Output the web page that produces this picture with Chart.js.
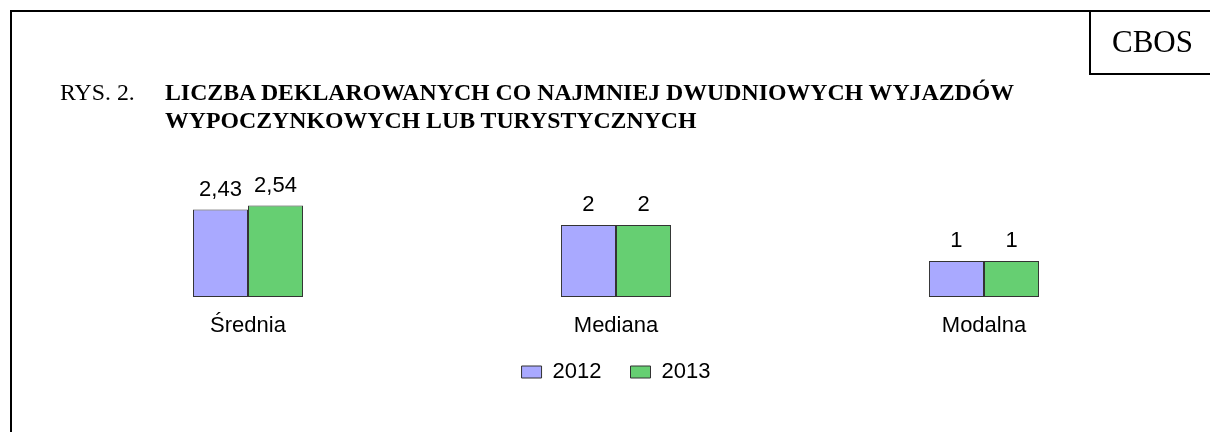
<!DOCTYPE html>
<html>
<head>
<meta charset="utf-8">
<script src="https://cdn.jsdelivr.net/npm/chart.js@4/dist/chart.umd.min.js"></script>
<style>
  html, body { margin: 0; padding: 0; background: #fff; }
  #wrap { position: relative; width: 1210px; height: 432px; overflow: hidden; }
  #frameTop { position: absolute; left: 10px; top: 10px; width: 1200px; height: 2px; background: #000; }
  #frameLeft { position: absolute; left: 10px; top: 10px; width: 2px; height: 422px; background: #000; }
  #cbos { position: absolute; left: 1089px; top: 10px; width: 121px; height: 65px; border-left: 2px solid #000; border-bottom: 2px solid #000; box-sizing: border-box;
          font-family: "Liberation Serif", "Times New Roman", serif; font-size: 31px; color: #000; text-align: center; line-height: 63px; padding-left: 4px; }
  .t { position: absolute; font-family: "Liberation Serif", "Times New Roman", serif; font-size: 23.8px; line-height: 28px; color: #000; white-space: nowrap; }
  #rys { left: 60px; top: 78px; }
  #title { left: 165px; top: 78px; font-weight: bold; }
  canvas { position: absolute; left: 0; top: 0; }
</style>
</head>
<body>
<div id="wrap">
  <canvas id="c" width="1210" height="432"></canvas>
  <div id="frameTop"></div>
  <div id="frameLeft"></div>
  <div id="cbos">CBOS</div>
  <div class="t" id="rys">RYS. 2.</div>
  <div class="t" id="title">LICZBA DEKLAROWANYCH CO NAJMNIEJ DWUDNIOWYCH WYJAZDÓW<br>WYPOCZYNKOWYCH LUB TURYSTYCZNYCH</div>
</div>
<script>
const categories = ["Średnia", "Mediana", "Modalna"];
const seriesNames = ["2012", "2013"];
const values2012 = [2.43, 2, 1];
const values2013 = [2.54, 2, 1];
const colors = ["#A9A9FF", "#66CF72"];

const valueLabels = {
  id: 'valueLabels',
  afterDatasetsDraw(chart) {
    const ctx = chart.ctx;
    ctx.save();
    ctx.font = '22px "Liberation Sans", Arial, sans-serif';
    ctx.fillStyle = '#000';
    ctx.textAlign = 'center';
    ctx.textBaseline = 'alphabetic';
    chart.data.datasets.forEach((ds, di) => {
      const meta = chart.getDatasetMeta(di);
      meta.data.forEach((el, i) => {
        const v = ds.data[i];
        ctx.fillText(String(v).replace('.', ','), el.x, el.y - 14);
      });
    });
    ctx.restore();
  }
};

new Chart(document.getElementById('c'), {
  type: 'bar',
  data: {
    labels: categories,
    datasets: [
      { label: seriesNames[0], data: values2012, backgroundColor: colors[0], borderColor: '#333', borderWidth: 1, borderSkipped: false },
      { label: seriesNames[1], data: values2013, backgroundColor: colors[1], borderColor: '#333', borderWidth: 1, borderSkipped: false }
    ]
  },
  options: {
    responsive: false,
    animation: false,
    devicePixelRatio: 1,
    layout: { padding: { left: 64, right: 42, top: 189, bottom: 39 } },
    datasets: { bar: { barPercentage: 1, categoryPercentage: 0.299 } },
    scales: {
      x: {
        grid: { display: false, drawTicks: false },
        border: { display: false },
        ticks: { padding: 23, color: '#000', font: { family: '"Liberation Sans", Arial, sans-serif', size: 22, lineHeight: 0.55 } },
        afterFit: (scale) => { scale.height = 35; }
      },
      y: { display: false, min: 0, max: 3 }
    },
    plugins: {
      legend: {
        position: 'bottom',
        labels: { boxWidth: 20, boxHeight: 12, padding: 29, color: '#000',
                  font: { family: '"Liberation Sans", Arial, sans-serif', size: 22 } }
      },
      tooltip: { enabled: false }
    }
  },
  plugins: [valueLabels]
});
</script>
</body>
</html>
